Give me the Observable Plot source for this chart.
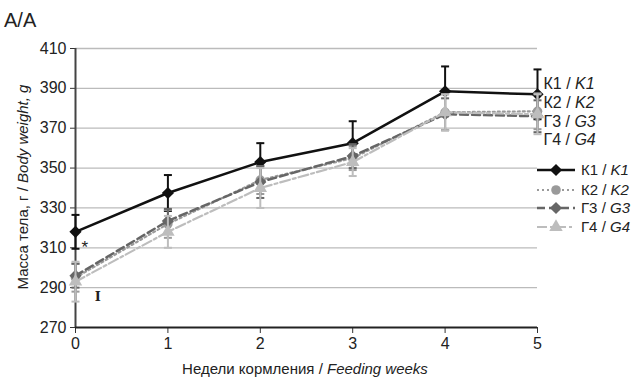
<!DOCTYPE html>
<html><head><meta charset="utf-8">
<script src="https://cdn.jsdelivr.net/npm/d3@7"></script>
<script src="https://cdn.jsdelivr.net/npm/@observablehq/plot@0.6"></script>
<style>
body{margin:0;background:#fff;}
#chart{width:633px;height:379px;}
</style></head><body><div id="chart"></div>
<script>
const weeks = [0, 1, 2, 3, 4, 5];
const yTicks = [270, 290, 310, 330, 350, 370, 390, 410];
const seriesNames = ["К1 / K1", "К2 / K2", "Г3 / G3", "Г4 / G4"];
const k1 = [318, 337.5, 353, 362.5, 388.5, 387];
const k1Err = [8.5, 9, 9.5, 11, 12.5, 12.5];
const k2 = [295, 322, 344, 355, 378, 378.5];
const k2Err = [7, 7, 7, 6, 9, 9];
const g3 = [296, 323.5, 343, 356, 377, 376];
const g3Err = [6, 6, 8, 6, 8, 8];
const g4 = [293, 318, 340, 353, 378, 377];
const g4Err = [10, 8, 10, 7, 9, 10];
const endLabelY = [392.4, 382.9, 373.4, 364.3];
const starMark = {week: 0.1, value: 310, text: "*"};
const barMark = {week: 0.24, value: 285.6, text: "I"};
const titleText = "A/A";
const yLabel = ["Масса тела, г / ", "Body weight, g"];
const xLabel = ["Недели кормления / ", "Feeding weeks"];

const FONT = "'Liberation Sans', Arial, sans-serif";

const styles = [
  {stroke: "#111", dash: null, width: 2.5, symbol: "diamond2", r: 5.5},
  {stroke: "#9a9a9a", dash: "2,3", width: 2.2, symbol: "circle", r: 4.8},
  {stroke: "#666", dash: "8,4", width: 2.5, symbol: "diamond2", r: 5.5},
  {stroke: "#bdbdbd", dash: "10,3,3,3", width: 2.2, symbol: "triangle", r: 5}
];
const allVals = [k1, k2, g3, g4];
const allErr = [k1Err, k2Err, g3Err, g4Err];
const series = seriesNames.map((name, i) => weeks.map((w, j) => ({
  week: w, value: allVals[i][j], err: allErr[i][j], name
})));

const capSymbol = {draw(ctx, size) { ctx.moveTo(-4, 0); ctx.lineTo(4, 0); }};

const marks = [
  Plot.gridY(yTicks.filter(t => t > 270), {stroke: "#bbb", strokeOpacity: 1, strokeWidth: 1.3}),
  Plot.axisY({ticks: yTicks, tickSize: 5, tickPadding: 4, label: null, fontSize: 16, stroke: "#333"}),
  Plot.axisX({ticks: weeks, tickSize: 6, tickPadding: 4, label: null, fontSize: 16, tickFormat: d => d, stroke: "#333"}),
  Plot.ruleX([0], {stroke: "#444", strokeWidth: 2}),
  Plot.ruleY([270], {stroke: "#222", strokeWidth: 2}),
];
[0, 1, 2, 3].forEach(i => {
  const s = styles[i], d = series[i];
  marks.push(
    Plot.ruleX(d, {x: "week", y1: r => r.value - r.err, y2: r => r.value + r.err, stroke: s.stroke, strokeWidth: 2}),
    Plot.dot(d, {x: "week", y: r => r.value + r.err, symbol: capSymbol, stroke: s.stroke, strokeWidth: 2, r: 4}),
    Plot.dot(d, {x: "week", y: r => r.value - r.err, symbol: capSymbol, stroke: s.stroke, strokeWidth: 2, r: 4}),
    Plot.line(d, {x: "week", y: "value", stroke: s.stroke, strokeWidth: s.width, strokeDasharray: s.dash}),
    Plot.dot(d, {x: "week", y: "value", symbol: s.symbol, fill: s.stroke, stroke: "none", r: s.r})
  );
});
marks.push(
  Plot.text(seriesNames.map((n, i) => ({name: n, y: endLabelY[i]})), {
    x: () => 5, y: "y", text: "name", dx: 6, textAnchor: "start", fontSize: 16, fill: "#222"
  }),
  Plot.text([starMark], {x: "week", y: "value", text: "text", fontSize: 17, fill: "#222"}),
  Plot.text([barMark], {x: "week", y: "value", text: "text", fontSize: 13, fontWeight: "bold", fontFamily: "'DejaVu Serif', serif", fill: "#222"})
);

const chart = Plot.plot({
  width: 633, height: 379,
  marginTop: 48, marginBottom: 52, marginLeft: 75, marginRight: 96,
  style: {fontFamily: FONT, fontSize: "16px", color: "#222", background: "#fff"},
  x: {domain: [0, 5]},
  y: {domain: [270, 410]},
  marks
});
document.getElementById("chart").appendChild(chart);

const svg = d3.select(chart);
svg.selectAll("text").filter(function() { return seriesNames.includes(this.textContent); }).each(function() {
  const t = d3.select(this);
  const [a, b] = t.text().split(" / ");
  t.text(null);
  t.append("tspan").text(a + " / ");
  t.append("tspan").attr("font-style", "italic").text(b);
});

svg.append("text").attr("x", 4).attr("y", 27).attr("font-size", 20).attr("fill", "#222")
  .attr("text-anchor", "start").attr("font-family", FONT).text(titleText);

const yl = svg.append("text").attr("transform", "translate(28,187) rotate(-90)")
  .attr("text-anchor", "middle").attr("font-size", 15).attr("fill", "#222").attr("font-family", FONT);
yl.append("tspan").text(yLabel[0]);
yl.append("tspan").attr("font-style", "italic").text(yLabel[1]);

const xl = svg.append("text").attr("x", 305).attr("y", 374)
  .attr("text-anchor", "middle").attr("font-size", 15).attr("fill", "#222").attr("font-family", FONT);
xl.append("tspan").text(xLabel[0]);
xl.append("tspan").attr("font-style", "italic").text(xLabel[1]);

const legY = [170, 190, 208, 227];
const leg = svg.append("g");
seriesNames.forEach((n, i) => {
  const s = styles[i];
  const g = leg.append("g").attr("transform", `translate(537,${legY[i]})`);
  g.append("line").attr("x1", 0).attr("x2", 38).attr("y1", 0).attr("y2", 0)
    .attr("stroke", s.stroke).attr("stroke-width", s.width).attr("stroke-dasharray", s.dash);
  const symType = s.symbol === "diamond2" ? d3.symbolDiamond2 : s.symbol === "circle" ? d3.symbolCircle : d3.symbolTriangle;
  const area = Math.PI * s.r * s.r;
  g.append("path").attr("d", d3.symbol(symType, area)()).attr("transform", "translate(19,0)").attr("fill", s.stroke);
  const t = g.append("text").attr("x", 44).attr("y", 0).attr("dy", "0.35em").attr("font-size", 15)
    .attr("text-anchor", "start").attr("fill", "#222").attr("font-family", FONT);
  const [a, b] = n.split(" / ");
  t.append("tspan").text(a + " / ");
  t.append("tspan").attr("font-style", "italic").text(b);
});
</script>
</body></html>
